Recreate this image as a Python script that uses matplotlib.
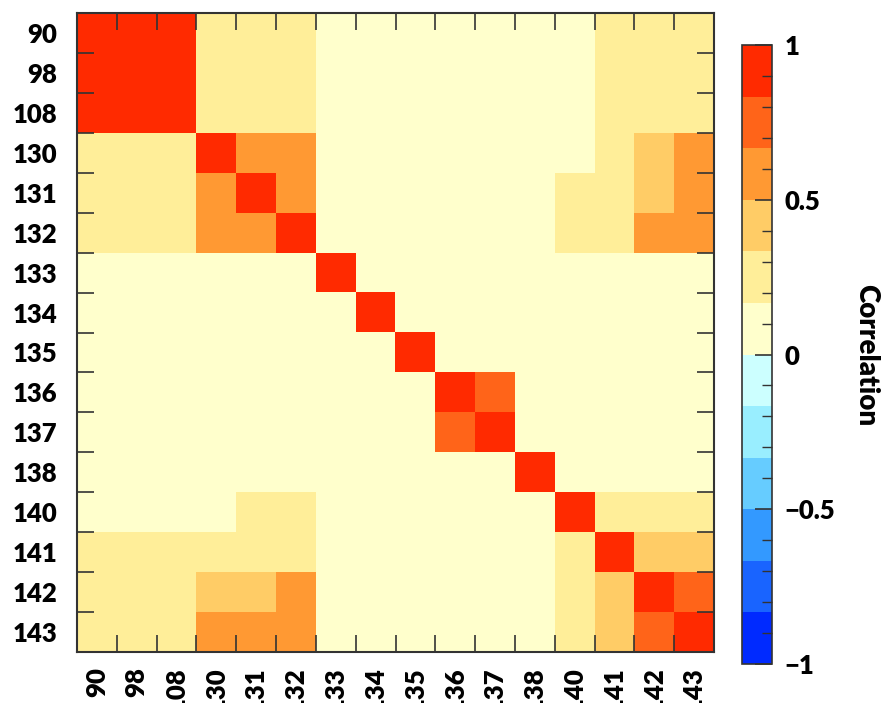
import numpy as np
import matplotlib
matplotlib.use("Agg")
import matplotlib.pyplot as plt
from matplotlib.colors import ListedColormap, BoundaryNorm

labels = ["90", "98", "108", "130", "131", "132", "133", "134", "135",
          "136", "137", "138", "140", "141", "142", "143"]

# correlation values (binned colours -> representative values)
row_90 = [1.00, 0.95, 0.95, 0.25, 0.25, 0.25, 0.05, 0.05, 0.05, 0.05, 0.05, 0.05, 0.05, 0.25, 0.25, 0.25]
row_98 = [0.95, 1.00, 0.95, 0.25, 0.25, 0.25, 0.05, 0.05, 0.05, 0.05, 0.05, 0.05, 0.05, 0.25, 0.25, 0.25]
row_108 = [0.95, 0.95, 1.00, 0.25, 0.25, 0.25, 0.05, 0.05, 0.05, 0.05, 0.05, 0.05, 0.05, 0.25, 0.25, 0.25]
row_130 = [0.25, 0.25, 0.25, 1.00, 0.60, 0.60, 0.05, 0.05, 0.05, 0.05, 0.05, 0.05, 0.10, 0.25, 0.40, 0.60]
row_131 = [0.25, 0.25, 0.25, 0.60, 1.00, 0.60, 0.05, 0.05, 0.05, 0.05, 0.05, 0.05, 0.20, 0.25, 0.40, 0.60]
row_132 = [0.25, 0.25, 0.25, 0.60, 0.60, 1.00, 0.05, 0.05, 0.05, 0.05, 0.05, 0.05, 0.20, 0.25, 0.60, 0.60]
row_133 = [0.05, 0.05, 0.05, 0.05, 0.05, 0.05, 1.00, 0.05, 0.05, 0.05, 0.05, 0.05, 0.05, 0.05, 0.05, 0.05]
row_134 = [0.05, 0.05, 0.05, 0.05, 0.05, 0.05, 0.05, 1.00, 0.05, 0.05, 0.05, 0.05, 0.05, 0.05, 0.05, 0.05]
row_135 = [0.05, 0.05, 0.05, 0.05, 0.05, 0.05, 0.05, 0.05, 1.00, 0.05, 0.05, 0.05, 0.05, 0.05, 0.05, 0.05]
row_136 = [0.05, 0.05, 0.05, 0.05, 0.05, 0.05, 0.05, 0.05, 0.05, 1.00, 0.75, 0.05, 0.05, 0.05, 0.05, 0.05]
row_137 = [0.05, 0.05, 0.05, 0.05, 0.05, 0.05, 0.05, 0.05, 0.05, 0.75, 1.00, 0.05, 0.05, 0.05, 0.05, 0.05]
row_138 = [0.05, 0.05, 0.05, 0.05, 0.05, 0.05, 0.05, 0.05, 0.05, 0.05, 0.05, 1.00, 0.05, 0.05, 0.05, 0.05]
row_140 = [0.05, 0.05, 0.05, 0.10, 0.20, 0.20, 0.05, 0.05, 0.05, 0.05, 0.05, 0.05, 1.00, 0.25, 0.25, 0.25]
row_141 = [0.25, 0.25, 0.25, 0.25, 0.25, 0.25, 0.05, 0.05, 0.05, 0.05, 0.05, 0.05, 0.25, 1.00, 0.40, 0.40]
row_142 = [0.25, 0.25, 0.25, 0.40, 0.40, 0.60, 0.05, 0.05, 0.05, 0.05, 0.05, 0.05, 0.25, 0.40, 1.00, 0.75]
row_143 = [0.25, 0.25, 0.25, 0.60, 0.60, 0.60, 0.05, 0.05, 0.05, 0.05, 0.05, 0.05, 0.25, 0.40, 0.75, 1.00]

rows = [row_90, row_98, row_108, row_130, row_131, row_132, row_133, row_134,
        row_135, row_136, row_137, row_138, row_140, row_141, row_142, row_143]

colorbar_levels = [-1, -5/6, -4/6, -3/6, -2/6, -1/6, 0, 1/6, 2/6, 3/6, 4/6, 5/6, 1]
colorbar_colors = ["#002AFF", "#1964FF", "#3399FF", "#66CCFF", "#99EEFF", "#CCFFFF",
                   "#FFFFCC", "#FFEE99", "#FFCC66", "#FF9933", "#FF6419", "#FF2A00"]

plt.rcParams['font.family'] = ['Lato', 'DejaVu Sans']

FW = 'heavy'
FS = 18.5

M = np.array(rows)
n = len(labels)

fig = plt.figure(figsize=(8.82, 7.03), dpi=100)
ax = fig.add_axes([77/882, 1 - 652/703, 637/882, 639/703])
cax = fig.add_axes([742/882, 1 - 664/703, 30/882, 619/703])

cmap = ListedColormap(colorbar_colors)
norm = BoundaryNorm(colorbar_levels, cmap.N)

im = ax.imshow(M, cmap=cmap, norm=norm, aspect='auto', interpolation='nearest',
               extent=(-0.5, n - 0.5, n - 0.5, -0.5))

ax.set_xticks(np.arange(n))
ax.set_yticks(np.arange(n))
ax.set_xticklabels(labels, rotation=90, fontsize=FS, fontweight=FW)
ax.set_yticklabels(labels, fontsize=FS, fontweight=FW)
ax.tick_params(which='major', length=0, pad=14)
ax.tick_params(axis='x', which='major', pad=11)
ax.set_xticks(np.arange(-0.5, n, 1), minor=True)
ax.set_yticks(np.arange(-0.5, n, 1), minor=True)
ax.tick_params(which='minor', direction='in', length=12, width=1.2, color='#333333',
               top=True, right=True, bottom=True, left=True)
for s in ax.spines.values():
    s.set_linewidth(1.5)
    s.set_color('#333333')

cb = fig.colorbar(im, cax=cax, ticks=[-1, -0.5, 0, 0.5, 1])
cb.ax.set_yticklabels(["\u22121", "\u22120.5", "0", "0.5", "1"], fontsize=FS, fontweight=FW)
cb.ax.set_yticks(np.arange(-1, 1.001, 0.1), minor=True)
cb.ax.tick_params(which='major', direction='in', length=12, width=1.2, color='#333333', pad=9)
cb.ax.tick_params(which='minor', direction='in', length=7, width=1.0, color='#333333')
cb.outline.set_linewidth(1.2)
cb.outline.set_edgecolor('#333333')

fig.text(866/882, 1 - 355/703, "Correlation", rotation=270, ha='center', va='center',
         fontsize=20, fontweight=FW)

fig.savefig("out.png", dpi=100)
